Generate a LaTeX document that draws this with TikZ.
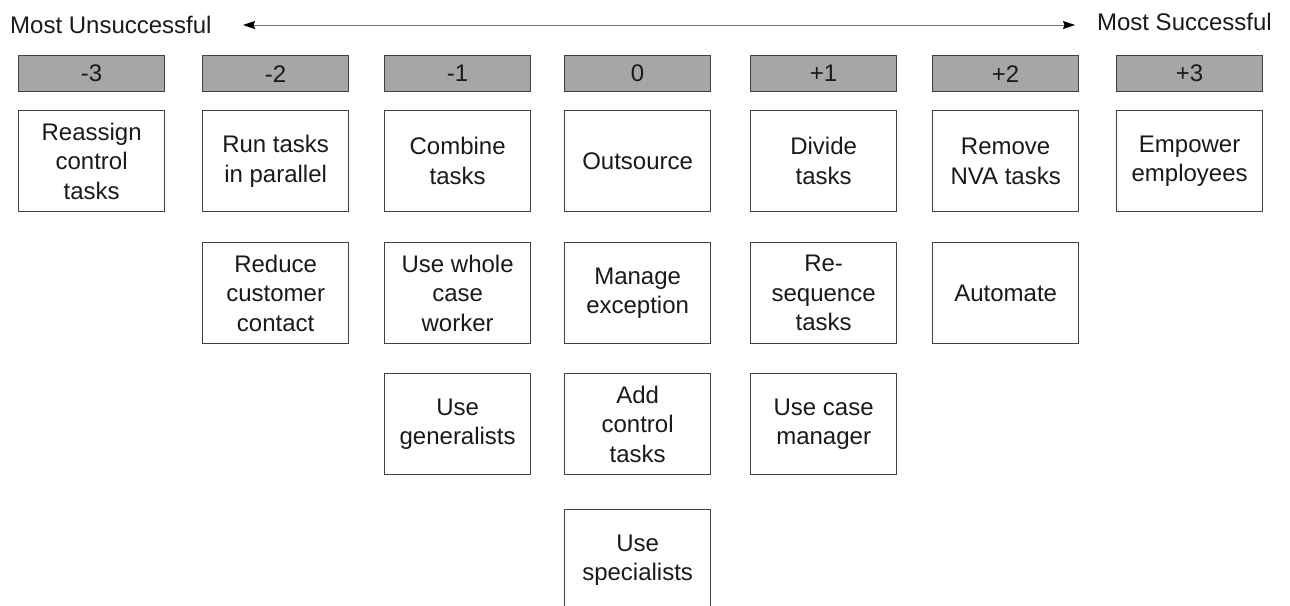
\documentclass[tikz,border=0pt]{standalone}
\usepackage{fontspec}
\setmainfont{Liberation Sans}
\usetikzlibrary{arrows.meta}
\definecolor{hdrgray}{HTML}{A6A6A6}
\definecolor{edgegray}{HTML}{404040}
\definecolor{txt}{HTML}{1A1A1A}
\begin{document}
\begin{tikzpicture}[x=1pt,y=-1pt,
  hdr/.style={draw=edgegray, line width=1.3pt, fill=hdrgray, minimum width=146pt, minimum height=36pt, inner sep=0pt, anchor=north west, text=txt, font=\fontsize{24}{29}\selectfont},
  item/.style={draw=edgegray, line width=1.3pt, fill=white, minimum width=146pt, minimum height=101pt, inner sep=0pt, anchor=north west, align=center, text=txt, font=\fontsize{24}{29.5}\selectfont},
  lbl/.style={font=\fontsize{24}{29}\selectfont, inner sep=0pt, text=txt},
  tip/.style={Stealth[length=12pt,width=8pt,inset=1.5pt,color=black]},
  scalearrow/.style={draw=black!55, line width=1pt, {Stealth[length=12pt,width=8pt,inset=1.5pt,color=black]}-{Stealth[length=12pt,width=8pt,inset=1.5pt,color=black]}}]
\useasboundingbox (0,0) rectangle (1290,605);
% scale labels
\node[lbl, anchor=west] (worst) at (10,25) {Most Unsuccessful};
\node[lbl, anchor=east] (best) at (1272,22) {Most Successful};
\coordinate (aL) at (243,25);
\coordinate (aR) at (1075,25);
\draw[scalearrow] (aL) -- (aR);
% headers
\node[hdr] (h1) at (18,55) {-3};
\node[hdr] (h2) at (202,55) {-2};
\node[hdr] (h3) at (384,55) {-1};
\node[hdr] (h4) at (564,55) {0};
\node[hdr] (h5) at (750,55) {+1};
\node[hdr] (h6) at (932,55) {+2};
\node[hdr] (h7) at (1116,55) {+3};
% row 1
\node[item] (a1) at (18,110) {Reassign\\control\\tasks};
\node[item] (a2) at (202,110) {Run tasks\\in parallel};
\node[item] (a3) at (384,110) {Combine\\tasks};
\node[item] (a4) at (564,110) {Outsource};
\node[item] (a5) at (750,110) {Divide\\tasks};
\node[item] (a6) at (932,110) {Remove\\NVA tasks};
\node[item] (a7) at (1116,110) {Empower\\employees};
% row 2
\node[item] (b2) at (202,242) {Reduce\\customer\\contact};
\node[item] (b3) at (384,242) {Use whole\\case\\worker};
\node[item] (b4) at (564,242) {Manage\\exception};
\node[item] (b5) at (750,242) {Re-\\sequence\\tasks};
\node[item] (b6) at (932,242) {Automate};
% row 3
\node[item] (c3) at (384,373) {Use\\generalists};
\node[item] (c4) at (564,373) {Add\\control\\tasks};
\node[item] (c5) at (750,373) {Use case\\manager};
% row 4
\node[item] (d4) at (564,509) {Use\\specialists};
\end{tikzpicture}
\end{document}
